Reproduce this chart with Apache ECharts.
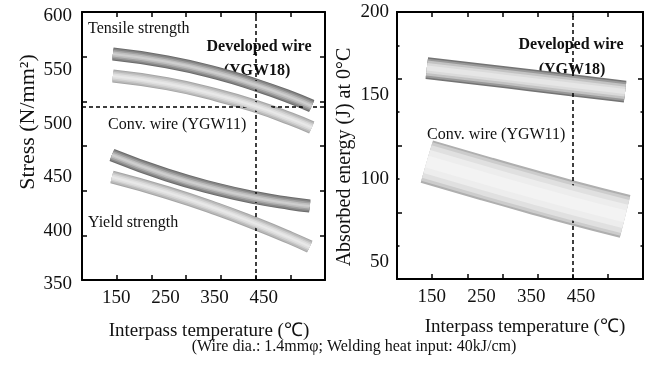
<!DOCTYPE html>
<html><head><meta charset="utf-8">
<script src="https://cdn.jsdelivr.net/npm/echarts@6/dist/echarts.min.js"></script>
<style>html,body{margin:0;padding:0;background:#fff}#c{width:651px;height:385px}</style>
</head><body><div id="c"></div>
<script>
// ---- data ----
const xTickLabels = [150, 250, 350, 450];
const stressLabels = [350, 400, 450, 500, 550, 600];
const energyLabels = [50, 100, 150, 200];

const devTensileTemp = [143, 253, 355, 436, 504, 548];
const devTensileStress = [560.8, 553.5, 542.9, 531.6, 520.6, 512.3];
const convTensileTemp = [143, 253, 355, 436, 504, 548];
const convTensileStress = [540.3, 533.1, 522.5, 511.7, 500.5, 492.3];
const devYieldTemp = [141, 253, 355, 436, 504, 544];
const devYieldStress = [466.6, 447.9, 434.7, 426.5, 421.4, 419.0];
const convYieldTemp = [141, 253, 355, 436, 504, 544];
const convYieldStress = [446.1, 431.7, 416.2, 402.1, 389.3, 381.1];

const energyTemp = [140, 261, 348, 432, 539];
const devEnergy = [166.4, 162.2, 159.1, 156.1, 152.3];
const convEnergy = [110.4, 99.9, 92.6, 85.7, 77.5];

const refTemp = 434;     // vertical dashed line
const refStress = 512;   // horizontal dashed line

// ---- chart ----
const SERIF = '"Liberation Serif", "Times New Roman", serif';
const X_MIN = 80, X_MAX = 575;
function divs(min, max, n) { const a = []; for (let i = 1; i < n; i++) a.push(min + (max - min) * i / n); return a; }
const xTicks = divs(X_MIN, X_MAX, 7);
const stressTicks = divs(350, 600, 6);
const energyAll = divs(40, 200, 8); // 60..180
const energyLong = energyAll.filter((v, i) => i % 2 === 1);
const energyShort = energyAll.filter((v, i) => i % 2 === 0);

const axisLine = { show: true, onZero: false, lineStyle: { color: '#000', width: 2 } };
function tick(vals, len) { return { show: true, inside: true, length: len, customValues: vals, lineStyle: { color: '#000', width: 1.5 } }; }
const labelStyle = { color: '#111', fontFamily: SERIF, fontSize: 19 };

function xAx(grid, pos, withLabels) {
  return {
    type: 'value', gridIndex: grid, position: pos, min: X_MIN, max: X_MAX,
    axisLine, axisTick: tick(xTicks, 5), splitLine: { show: false },
    axisLabel: withLabels ? Object.assign({ show: true, customValues: xTickLabels, margin: 9 }, labelStyle) : { show: false }
  };
}
function yAx(grid, pos, min, max, ticks, len, labels, margin, shift) {
  const lab = labels ? Object.assign({ show: true, customValues: labels, margin, showMinLabel: true, showMaxLabel: true }, labelStyle) : { show: false };
  if (labels && shift) {
    lab.formatter = '{v|{value}}';
    lab.rich = { v: { fontFamily: SERIF, fontSize: 19, color: '#111', padding: [shift, 0, 0, 0] } };
  }
  return {
    type: 'value', gridIndex: grid, position: pos, min, max,
    axisLine, axisTick: tick(ticks, len), splitLine: { show: false }, axisLabel: lab
  };
}

function zip(a, b) { return a.map((v, i) => [v, b[i]]); }
function tube(data, xi, yi, layers, baseZ) {
  return layers.map((l, k) => ({
    type: 'line', xAxisIndex: xi, yAxisIndex: yi, data, smooth: 0.5,
    symbol: 'none', silent: true, z: baseZ + k,
    lineStyle: { width: l[0], color: l[1], cap: 'butt', join: 'round' }
  }));
}
const darkTube = [[13, '#6c6c6c'], [11, '#858585'], [8, '#a2a2a2'], [5, '#bebebe'], [2, '#cecece']];
const lightTube = [[13, '#a6a6a6'], [11, '#bababa'], [8, '#cfcfcf'], [5, '#dfdfdf'], [2, '#e8e8e8']];
const devBand = [[22, '#747474'], [19, '#999999'], [15, '#c2c2c2'], [10, '#dadada'], [5, '#e6e6e6']];
const convBand = [[44, '#afafaf'], [40, '#cccccc'], [34, '#e0e0e0'], [24, '#ededed'], [12, '#f3f3f3']];

const dash = { color: '#000', width: 1.5, type: [4, 3] };
function refLines(xi, yi, lines) {
  return {
    type: 'line', xAxisIndex: xi, yAxisIndex: yi, data: [], z: 30, silent: true,
    markLine: { symbol: 'none', silent: true, animation: false, label: { show: false }, lineStyle: dash, data: lines }
  };
}

function txt(x, y, text, opt) {
  return { type: 'text', z: 1, x, y, style: Object.assign({ text, fill: '#111', font: '16px ' + SERIF, textAlign: 'left', textVerticalAlign: 'middle' }, opt || {}) };
}
const bold = { font: 'bold 16px ' + SERIF, textAlign: 'center' };

const option = {
  animation: false,
  backgroundColor: '#fff',
  grid: [
    { left: 82, top: 12, width: 243, height: 268 },
    { left: 397, top: 12, width: 246, height: 267 }
  ],
  xAxis: [
    xAx(0, 'bottom', true), xAx(0, 'top', false),
    xAx(1, 'bottom', true), xAx(1, 'top', false)
  ],
  yAxis: [
    yAx(0, 'left', 350, 600, stressTicks, 5, stressLabels, 10, 9),
    yAx(0, 'right', 350, 600, stressTicks, 5, null),
    yAx(1, 'left', 40, 200, energyLong, 5, energyLabels, 8),
    yAx(1, 'left', 40, 200, energyShort, 2.5, null),
    yAx(1, 'right', 40, 200, energyLong, 5, null),
    yAx(1, 'right', 40, 200, energyShort, 2.5, null)
  ],
  series: [].concat(
    tube(zip(devTensileTemp, devTensileStress), 0, 0, darkTube, 3),
    tube(zip(convTensileTemp, convTensileStress), 0, 0, lightTube, 3),
    tube(zip(devYieldTemp, devYieldStress), 0, 0, darkTube, 3),
    tube(zip(convYieldTemp, convYieldStress), 0, 0, lightTube, 3),
    tube(zip(energyTemp, devEnergy), 2, 2, devBand, 3),
    tube(zip(energyTemp, convEnergy), 2, 2, convBand, 3),
    [refLines(0, 0, [{ xAxis: refTemp }, { yAxis: refStress }]), refLines(2, 2, [{ xAxis: refTemp }])]
  ),
  graphic: { elements: [
    txt(88, 29, 'Tensile strength'),
    txt(259, 47, 'Developed wire', bold),
    txt(257, 71, '(YGW18)', bold),
    txt(108, 125, 'Conv. wire (YGW11)'),
    txt(88, 223, 'Yield strength'),
    txt(571, 45, 'Developed wire', bold),
    txt(572, 70, '(YGW18)', bold),
    txt(427, 135, 'Conv. wire (YGW11)'),
    txt(209, 331, 'Interpass temperature (℃)', { font: '19px ' + SERIF, textAlign: 'center' }),
    txt(525, 327, 'Interpass temperature (℃)', { font: '19px ' + SERIF, textAlign: 'center' }),
    Object.assign(txt(28, 122, 'Stress (N/mm²)', { font: '22px ' + SERIF, textAlign: 'center' }), { rotation: Math.PI / 2 }),
    Object.assign(txt(345, 157, 'Absorbed energy (J) at 0°C', { font: '20px ' + SERIF, textAlign: 'center' }), { rotation: Math.PI / 2 }),
    txt(354, 347, '(Wire dia.: 1.4mmφ; Welding heat input: 40kJ/cm)', { font: '16px ' + SERIF, textAlign: 'center' })
  ] }
};
const chart = echarts.init(document.getElementById('c'));
chart.setOption(option);
</script></body></html>
